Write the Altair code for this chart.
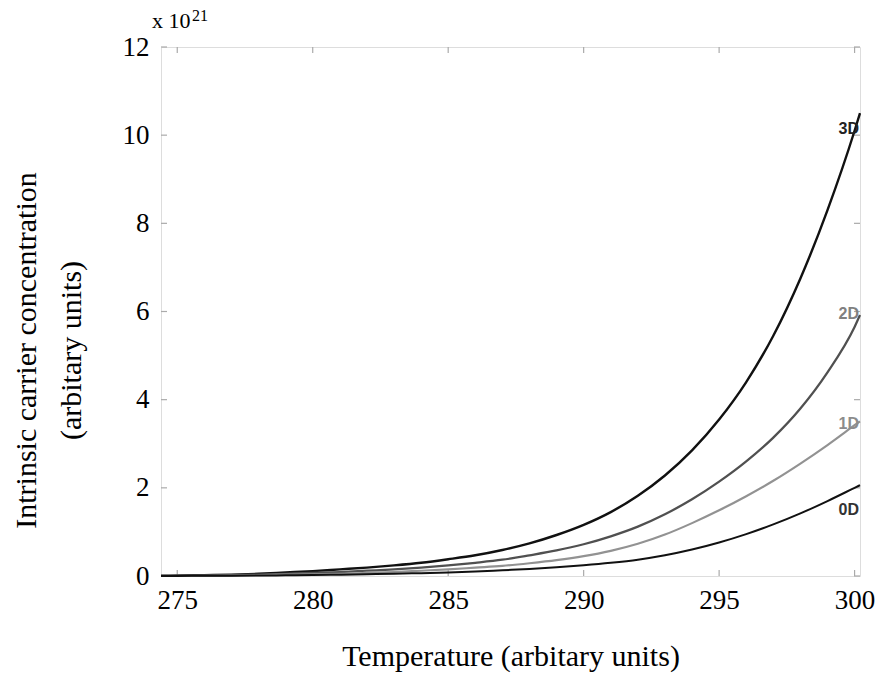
import altair as alt
import pandas as pd

temperature = [274.4, 275, 276, 277, 278, 279, 280, 281, 282, 283, 284, 285, 286, 287,
               288, 289, 290, 291, 292, 293, 294, 295, 296, 297, 298, 299, 300, 300.2]
conc_3d = [0.005, 0.01, 0.02, 0.03, 0.05, 0.08, 0.11, 0.15, 0.19, 0.24, 0.3, 0.38, 0.47, 0.59,
           0.74, 0.93, 1.16, 1.45, 1.82, 2.28, 2.85, 3.55, 4.4, 5.45, 6.75, 8.3, 10.1, 10.5]
conc_2d = [0.003, 0.005, 0.01, 0.02, 0.03, 0.05, 0.07, 0.09, 0.12, 0.15, 0.19, 0.24, 0.3, 0.37,
           0.47, 0.58, 0.72, 0.9, 1.12, 1.4, 1.74, 2.14, 2.6, 3.14, 3.8, 4.62, 5.65, 5.92]
conc_1d = [0.002, 0.003, 0.005, 0.01, 0.02, 0.03, 0.04, 0.05, 0.07, 0.09, 0.12, 0.15, 0.19, 0.23,
           0.29, 0.36, 0.45, 0.57, 0.73, 0.94, 1.2, 1.49, 1.81, 2.16, 2.55, 2.97, 3.42, 3.51]
conc_0d = [0.001, 0.002, 0.004, 0.006, 0.01, 0.015, 0.02, 0.03, 0.04, 0.05, 0.065, 0.08, 0.1, 0.13,
           0.16, 0.2, 0.245, 0.3, 0.37, 0.47, 0.6, 0.76, 0.95, 1.17, 1.42, 1.7, 2.0, 2.06]

series_names = ["3D", "2D", "1D", "0D"]
series_colors = ["#111111", "#505050", "#929292", "#111111"]
series_widths = [2.4, 2.0, 2.0, 2.4]

label_T = [300.2, 300.2, 300.2, 300.2]
label_value = [10.15, 5.95, 3.45, 1.5]
label_colors = ["#222222", "#808080", "#8c8c8c", "#333333"]

x_ticks = [275, 280, 285, 290, 295, 300]
y_ticks = [0, 2, 4, 6, 8, 10, 12]

W, H = 699, 529
FONT = "Liberation Serif"

rows = []
for name, vals in zip(series_names, [conc_3d, conc_2d, conc_1d, conc_0d]):
    for t, v in zip(temperature, vals):
        rows.append({"T": t, "n": v, "series": name})
df = pd.DataFrame(rows)

xs = alt.Scale(domain=[274.4, 300.2], nice=False, zero=False)
ys = alt.Scale(domain=[0, 12], nice=False)

x_axis = alt.Axis(values=x_ticks, title="Temperature (arbitary units)", grid=False, domain=False,
                  ticks=False, labelFont=FONT, labelFontSize=27, labelColor="black",
                  labelPadding=11, titleFont=FONT, titleFontSize=30, titleFontWeight="normal",
                  titleColor="black", titlePadding=28)
y_axis = alt.Axis(values=y_ticks, title=["Intrinsic carrier concentration", "(arbitary units)"],
                  grid=False, domain=False, ticks=False, labelFont=FONT, labelFontSize=27,
                  labelColor="black", labelPadding=12, titleFont=FONT, titleFontSize=30,
                  titleFontWeight="normal", titleColor="black", titleLineHeight=45,
                  titleX=-120, titleY=303, titleBaseline="bottom", titleAlign="center")

lines = alt.Chart(df).mark_line(interpolate="monotone").encode(
    x=alt.X("T:Q", scale=xs, axis=x_axis),
    y=alt.Y("n:Q", scale=ys, axis=y_axis),
    color=alt.Color("series:N", scale=alt.Scale(domain=series_names, range=series_colors), legend=None),
    strokeWidth=alt.StrokeWidth("series:N", scale=alt.Scale(domain=series_names, range=series_widths), legend=None),
    detail="series:N",
)

lab_df = pd.DataFrame({"label": series_names, "T": label_T, "n": label_value, "c": label_colors})
labels = alt.Chart(lab_df).mark_text(align="right", baseline="middle", font="Liberation Sans",
                                     fontSize=16, fontWeight="bold", dx=-1).encode(
    x=alt.X("T:Q", scale=xs), y=alt.Y("n:Q", scale=ys), text="label:N",
    color=alt.Color("c:N", scale=None),
)

ydf = pd.DataFrame({"v": y_ticks})
xdf = pd.DataFrame({"v": x_ticks})
tick_color = "#aaaaaa"
yt_left = alt.Chart(ydf).mark_rule(color=tick_color, strokeWidth=1.2).encode(
    y=alt.Y("v:Q", scale=ys), x=alt.value(0), x2=alt.value(6))
yt_right = alt.Chart(ydf).mark_rule(color=tick_color, strokeWidth=1.2).encode(
    y=alt.Y("v:Q", scale=ys), x=alt.value(W - 6), x2=alt.value(W))
xt_bot = alt.Chart(xdf).mark_rule(color=tick_color, strokeWidth=1.2).encode(
    x=alt.X("v:Q", scale=xs), y=alt.value(H - 6), y2=alt.value(H))
xt_top = alt.Chart(xdf).mark_rule(color=tick_color, strokeWidth=1.2).encode(
    x=alt.X("v:Q", scale=xs), y=alt.value(0), y2=alt.value(6))

exp_base = alt.Chart(pd.DataFrame({"t": ["x 10"]})).mark_text(
    align="left", baseline="alphabetic", font=FONT, fontSize=22, color="black").encode(
    text="t:N", x=alt.value(-9), y=alt.value(-19))
exp_sup = alt.Chart(pd.DataFrame({"t": ["21"]})).mark_text(
    align="left", baseline="alphabetic", font=FONT, fontSize=16, color="black").encode(
    text="t:N", x=alt.value(31), y=alt.value(-26))

chart = alt.layer(yt_left, yt_right, xt_bot, xt_top, lines, labels, exp_base, exp_sup).properties(
    width=W, height=H, autosize="none",
    padding={"left": 153, "top": 39, "right": 15, "bottom": 99},
).configure_view(stroke="#888888", strokeWidth=1.6).configure(background="white")

chart.save("out.html", embed_options={"renderer": "svg", "actions": False})
